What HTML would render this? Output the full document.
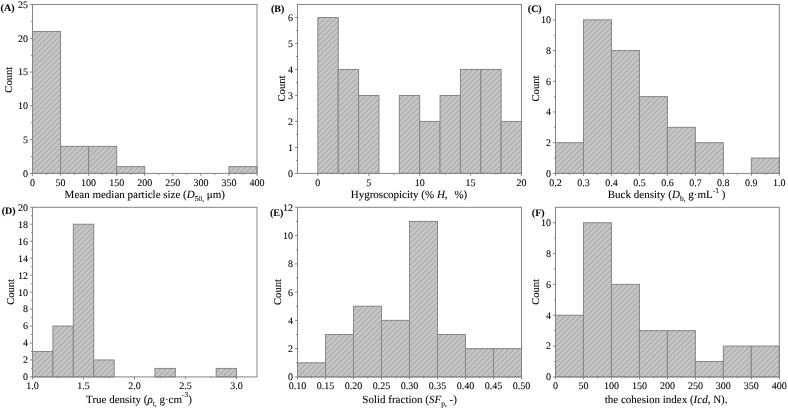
<!DOCTYPE html>
<html><head><meta charset="utf-8"><title>Histograms</title>
<style>
html,body{margin:0;padding:0;background:#fff;}
body{width:788px;height:409px;overflow:hidden;font-family:"Liberation Serif",serif;}
svg{display:block;transform:translateZ(0);}
text{stroke:#000;stroke-width:0.08px;text-rendering:geometricPrecision;}
</style></head><body>
<svg width="788" height="409" viewBox="0 0 788 409" font-family="'Liberation Serif', serif" font-size="10" fill="#000000"><defs><pattern id="hA" patternUnits="userSpaceOnUse" width="3.8042" height="3.8042" patternTransform="rotate(45) translate(2.470 0)"><rect width="3.8042" height="3.8042" fill="#c6c6c6"/><rect x="0" y="0" width="1.00" height="3.8042" fill="#a8a8a8"/></pattern><pattern id="hB" patternUnits="userSpaceOnUse" width="3.8042" height="3.8042" patternTransform="rotate(45) translate(2.611 0)"><rect width="3.8042" height="3.8042" fill="#c6c6c6"/><rect x="0" y="0" width="1.00" height="3.8042" fill="#a8a8a8"/></pattern><pattern id="hC" patternUnits="userSpaceOnUse" width="3.8042" height="3.8042" patternTransform="rotate(45) translate(2.222 0)"><rect width="3.8042" height="3.8042" fill="#c6c6c6"/><rect x="0" y="0" width="1.00" height="3.8042" fill="#a8a8a8"/></pattern><pattern id="hD" patternUnits="userSpaceOnUse" width="3.8042" height="3.8042" patternTransform="rotate(45) translate(1.268 0)"><rect width="3.8042" height="3.8042" fill="#c6c6c6"/><rect x="0" y="0" width="1.00" height="3.8042" fill="#a8a8a8"/></pattern><pattern id="hE" patternUnits="userSpaceOnUse" width="3.8042" height="3.8042" patternTransform="rotate(45) translate(1.338 0)"><rect width="3.8042" height="3.8042" fill="#c6c6c6"/><rect x="0" y="0" width="1.00" height="3.8042" fill="#a8a8a8"/></pattern><pattern id="hF" patternUnits="userSpaceOnUse" width="3.8042" height="3.8042" patternTransform="rotate(45) translate(2.328 0)"><rect width="3.8042" height="3.8042" fill="#c6c6c6"/><rect x="0" y="0" width="1.00" height="3.8042" fill="#a8a8a8"/></pattern></defs>
<rect x="32.50" y="31.52" width="28.06" height="141.88" fill="url(#hA)" stroke="#868686" stroke-width="1"/>
<rect x="60.56" y="146.38" width="28.06" height="27.02" fill="url(#hA)" stroke="#868686" stroke-width="1"/>
<rect x="88.62" y="146.38" width="28.06" height="27.02" fill="url(#hA)" stroke="#868686" stroke-width="1"/>
<rect x="116.69" y="166.64" width="28.06" height="6.76" fill="url(#hA)" stroke="#868686" stroke-width="1"/>
<rect x="228.94" y="166.64" width="28.06" height="6.76" fill="url(#hA)" stroke="#868686" stroke-width="1"/>
<rect x="32.50" y="4.50" width="224.50" height="168.90" fill="none" stroke="#848484" stroke-width="1.0"/>
<path d="M32.50 173.40v2.4M60.56 173.40v2.4M88.62 173.40v2.4M116.69 173.40v2.4M144.75 173.40v2.4M172.81 173.40v2.4M200.88 173.40v2.4M228.94 173.40v2.4M257.00 173.40v2.4M46.53 173.40v1.4M74.59 173.40v1.4M102.66 173.40v1.4M130.72 173.40v1.4M158.78 173.40v1.4M186.84 173.40v1.4M214.91 173.40v1.4M242.97 173.40v1.4M32.50 173.40h-2.4M32.50 139.62h-2.4M32.50 105.84h-2.4M32.50 72.06h-2.4M32.50 38.28h-2.4M32.50 4.50h-2.4M32.50 156.51h-1.4M32.50 122.73h-1.4M32.50 88.95h-1.4M32.50 55.17h-1.4M32.50 21.39h-1.4" stroke="#848484" stroke-width="1" fill="none"/>
<text x="32.50" y="185.60" text-anchor="middle">0</text>
<text x="60.56" y="185.60" text-anchor="middle">50</text>
<text x="88.62" y="185.60" text-anchor="middle">100</text>
<text x="116.69" y="185.60" text-anchor="middle">150</text>
<text x="144.75" y="185.60" text-anchor="middle">200</text>
<text x="172.81" y="185.60" text-anchor="middle">250</text>
<text x="200.88" y="185.60" text-anchor="middle">300</text>
<text x="228.94" y="185.60" text-anchor="middle">350</text>
<text x="257.00" y="185.60" text-anchor="middle">400</text>
<text x="27.90" y="176.80" text-anchor="end">0</text>
<text x="27.90" y="143.02" text-anchor="end">5</text>
<text x="27.90" y="109.24" text-anchor="end">10</text>
<text x="27.90" y="75.46" text-anchor="end">15</text>
<text x="27.90" y="41.68" text-anchor="end">20</text>
<text x="27.90" y="7.90" text-anchor="end">25</text>
<text transform="translate(11.60 79.70) rotate(-90)" text-anchor="middle" font-size="10.6">Count</text>
<text x="0.60" y="10.90" font-weight="bold" font-size="10.0">(A)</text>
<rect x="317.86" y="17.49" width="20.36" height="155.91" fill="url(#hB)" stroke="#868686" stroke-width="1"/>
<rect x="338.23" y="69.46" width="20.36" height="103.94" fill="url(#hB)" stroke="#868686" stroke-width="1"/>
<rect x="358.59" y="95.45" width="20.36" height="77.95" fill="url(#hB)" stroke="#868686" stroke-width="1"/>
<rect x="399.32" y="95.45" width="20.36" height="77.95" fill="url(#hB)" stroke="#868686" stroke-width="1"/>
<rect x="419.68" y="121.43" width="20.36" height="51.97" fill="url(#hB)" stroke="#868686" stroke-width="1"/>
<rect x="440.05" y="95.45" width="20.36" height="77.95" fill="url(#hB)" stroke="#868686" stroke-width="1"/>
<rect x="460.41" y="69.46" width="20.36" height="103.94" fill="url(#hB)" stroke="#868686" stroke-width="1"/>
<rect x="480.77" y="69.46" width="20.36" height="103.94" fill="url(#hB)" stroke="#868686" stroke-width="1"/>
<rect x="501.14" y="121.43" width="20.36" height="51.97" fill="url(#hB)" stroke="#868686" stroke-width="1"/>
<rect x="297.50" y="4.50" width="224.00" height="168.90" fill="none" stroke="#848484" stroke-width="1.0"/>
<path d="M317.86 173.40v2.4M368.77 173.40v2.4M419.68 173.40v2.4M470.59 173.40v2.4M521.50 173.40v2.4M343.32 173.40v1.4M394.23 173.40v1.4M445.14 173.40v1.4M496.05 173.40v1.4M297.50 173.40h-2.4M297.50 147.42h-2.4M297.50 121.43h-2.4M297.50 95.45h-2.4M297.50 69.46h-2.4M297.50 43.48h-2.4M297.50 17.49h-2.4M297.50 160.41h-1.4M297.50 134.42h-1.4M297.50 108.44h-1.4M297.50 82.45h-1.4M297.50 56.47h-1.4M297.50 30.48h-1.4" stroke="#848484" stroke-width="1" fill="none"/>
<text x="317.86" y="185.60" text-anchor="middle">0</text>
<text x="368.77" y="185.60" text-anchor="middle">5</text>
<text x="419.68" y="185.60" text-anchor="middle">10</text>
<text x="470.59" y="185.60" text-anchor="middle">15</text>
<text x="521.50" y="185.60" text-anchor="middle">20</text>
<text x="292.90" y="176.80" text-anchor="end">0</text>
<text x="292.90" y="150.82" text-anchor="end">1</text>
<text x="292.90" y="124.83" text-anchor="end">2</text>
<text x="292.90" y="98.85" text-anchor="end">3</text>
<text x="292.90" y="72.86" text-anchor="end">4</text>
<text x="292.90" y="46.88" text-anchor="end">5</text>
<text x="292.90" y="20.89" text-anchor="end">6</text>
<text transform="translate(285.40 88.50) rotate(-90)" text-anchor="middle" font-size="10.6">Count</text>
<text x="271.00" y="11.80" font-weight="bold" font-size="10.0">(B)</text>
<rect x="555.50" y="142.69" width="27.98" height="30.71" fill="url(#hC)" stroke="#868686" stroke-width="1"/>
<rect x="583.48" y="19.85" width="27.98" height="153.55" fill="url(#hC)" stroke="#868686" stroke-width="1"/>
<rect x="611.45" y="50.56" width="27.97" height="122.84" fill="url(#hC)" stroke="#868686" stroke-width="1"/>
<rect x="639.42" y="96.63" width="27.98" height="76.77" fill="url(#hC)" stroke="#868686" stroke-width="1"/>
<rect x="667.40" y="127.34" width="27.98" height="46.06" fill="url(#hC)" stroke="#868686" stroke-width="1"/>
<rect x="695.38" y="142.69" width="27.98" height="30.71" fill="url(#hC)" stroke="#868686" stroke-width="1"/>
<rect x="751.33" y="158.05" width="27.97" height="15.35" fill="url(#hC)" stroke="#868686" stroke-width="1"/>
<rect x="555.50" y="4.50" width="223.80" height="168.90" fill="none" stroke="#848484" stroke-width="1.0"/>
<path d="M555.50 173.40v2.4M583.48 173.40v2.4M611.45 173.40v2.4M639.42 173.40v2.4M667.40 173.40v2.4M695.38 173.40v2.4M723.35 173.40v2.4M751.32 173.40v2.4M779.30 173.40v2.4M569.49 173.40v1.4M597.46 173.40v1.4M625.44 173.40v1.4M653.41 173.40v1.4M681.39 173.40v1.4M709.36 173.40v1.4M737.34 173.40v1.4M765.31 173.40v1.4M555.50 173.40h-2.4M555.50 142.69h-2.4M555.50 111.98h-2.4M555.50 81.27h-2.4M555.50 50.56h-2.4M555.50 19.85h-2.4M555.50 158.05h-1.4M555.50 127.34h-1.4M555.50 96.63h-1.4M555.50 65.92h-1.4M555.50 35.21h-1.4" stroke="#848484" stroke-width="1" fill="none"/>
<text x="555.50" y="185.60" text-anchor="middle">0.2</text>
<text x="583.48" y="185.60" text-anchor="middle">0.3</text>
<text x="611.45" y="185.60" text-anchor="middle">0.4</text>
<text x="639.42" y="185.60" text-anchor="middle">0.5</text>
<text x="667.40" y="185.60" text-anchor="middle">0.6</text>
<text x="695.38" y="185.60" text-anchor="middle">0.7</text>
<text x="723.35" y="185.60" text-anchor="middle">0.8</text>
<text x="751.32" y="185.60" text-anchor="middle">0.9</text>
<text x="779.30" y="185.60" text-anchor="middle">1.0</text>
<text x="550.90" y="176.80" text-anchor="end">0</text>
<text x="550.90" y="146.09" text-anchor="end">2</text>
<text x="550.90" y="115.38" text-anchor="end">4</text>
<text x="550.90" y="84.67" text-anchor="end">6</text>
<text x="550.90" y="53.96" text-anchor="end">8</text>
<text x="550.90" y="23.25" text-anchor="end">10</text>
<text transform="translate(539.10 88.50) rotate(-90)" text-anchor="middle" font-size="10.6">Count</text>
<text x="527.80" y="11.60" font-weight="bold" font-size="10.0">(C)</text>
<rect x="32.50" y="351.46" width="20.41" height="25.44" fill="url(#hD)" stroke="#868686" stroke-width="1"/>
<rect x="52.91" y="326.02" width="20.41" height="50.88" fill="url(#hD)" stroke="#868686" stroke-width="1"/>
<rect x="73.32" y="224.26" width="20.41" height="152.64" fill="url(#hD)" stroke="#868686" stroke-width="1"/>
<rect x="93.73" y="359.94" width="20.41" height="16.96" fill="url(#hD)" stroke="#868686" stroke-width="1"/>
<rect x="154.95" y="368.42" width="20.41" height="8.48" fill="url(#hD)" stroke="#868686" stroke-width="1"/>
<rect x="216.18" y="368.42" width="20.41" height="8.48" fill="url(#hD)" stroke="#868686" stroke-width="1"/>
<rect x="32.50" y="207.30" width="224.50" height="169.60" fill="none" stroke="#848484" stroke-width="1.0"/>
<path d="M32.50 376.90v2.4M83.52 376.90v2.4M134.55 376.90v2.4M185.57 376.90v2.4M236.59 376.90v2.4M58.01 376.90v1.4M109.03 376.90v1.4M160.06 376.90v1.4M211.08 376.90v1.4M32.50 376.90h-2.4M32.50 359.94h-2.4M32.50 342.98h-2.4M32.50 326.02h-2.4M32.50 309.06h-2.4M32.50 292.10h-2.4M32.50 275.14h-2.4M32.50 258.18h-2.4M32.50 241.22h-2.4M32.50 224.26h-2.4M32.50 207.30h-2.4M32.50 368.42h-1.4M32.50 351.46h-1.4M32.50 334.50h-1.4M32.50 317.54h-1.4M32.50 300.58h-1.4M32.50 283.62h-1.4M32.50 266.66h-1.4M32.50 249.70h-1.4M32.50 232.74h-1.4M32.50 215.78h-1.4" stroke="#848484" stroke-width="1" fill="none"/>
<text x="32.50" y="388.80" text-anchor="middle">1.0</text>
<text x="83.52" y="388.80" text-anchor="middle">1.5</text>
<text x="134.55" y="388.80" text-anchor="middle">2.0</text>
<text x="185.57" y="388.80" text-anchor="middle">2.5</text>
<text x="236.59" y="388.80" text-anchor="middle">3.0</text>
<text x="27.90" y="380.30" text-anchor="end">0</text>
<text x="27.90" y="363.34" text-anchor="end">2</text>
<text x="27.90" y="346.38" text-anchor="end">4</text>
<text x="27.90" y="329.42" text-anchor="end">6</text>
<text x="27.90" y="312.46" text-anchor="end">8</text>
<text x="27.90" y="295.50" text-anchor="end">10</text>
<text x="27.90" y="278.54" text-anchor="end">12</text>
<text x="27.90" y="261.58" text-anchor="end">14</text>
<text x="27.90" y="244.62" text-anchor="end">16</text>
<text x="27.90" y="227.66" text-anchor="end">18</text>
<text x="27.90" y="210.70" text-anchor="end">20</text>
<text transform="translate(14.40 291.90) rotate(-90)" text-anchor="middle" font-size="10.6">Count</text>
<text x="1.70" y="213.60" font-weight="bold" font-size="10.0">(D)</text>
<rect x="297.50" y="362.77" width="28.00" height="14.13" fill="url(#hE)" stroke="#868686" stroke-width="1"/>
<rect x="325.50" y="334.50" width="28.00" height="42.40" fill="url(#hE)" stroke="#868686" stroke-width="1"/>
<rect x="353.50" y="306.23" width="28.00" height="70.67" fill="url(#hE)" stroke="#868686" stroke-width="1"/>
<rect x="381.50" y="320.37" width="28.00" height="56.53" fill="url(#hE)" stroke="#868686" stroke-width="1"/>
<rect x="409.50" y="221.43" width="28.00" height="155.47" fill="url(#hE)" stroke="#868686" stroke-width="1"/>
<rect x="437.50" y="334.50" width="28.00" height="42.40" fill="url(#hE)" stroke="#868686" stroke-width="1"/>
<rect x="465.50" y="348.63" width="28.00" height="28.27" fill="url(#hE)" stroke="#868686" stroke-width="1"/>
<rect x="493.50" y="348.63" width="28.00" height="28.27" fill="url(#hE)" stroke="#868686" stroke-width="1"/>
<rect x="297.50" y="207.30" width="224.00" height="169.60" fill="none" stroke="#848484" stroke-width="1.0"/>
<path d="M297.50 376.90v2.4M325.50 376.90v2.4M353.50 376.90v2.4M381.50 376.90v2.4M409.50 376.90v2.4M437.50 376.90v2.4M465.50 376.90v2.4M493.50 376.90v2.4M521.50 376.90v2.4M311.50 376.90v1.4M339.50 376.90v1.4M367.50 376.90v1.4M395.50 376.90v1.4M423.50 376.90v1.4M451.50 376.90v1.4M479.50 376.90v1.4M507.50 376.90v1.4M297.50 376.90h-2.4M297.50 348.63h-2.4M297.50 320.37h-2.4M297.50 292.10h-2.4M297.50 263.83h-2.4M297.50 235.57h-2.4M297.50 207.30h-2.4M297.50 362.77h-1.4M297.50 334.50h-1.4M297.50 306.23h-1.4M297.50 277.97h-1.4M297.50 249.70h-1.4M297.50 221.43h-1.4" stroke="#848484" stroke-width="1" fill="none"/>
<text x="297.50" y="388.80" text-anchor="middle">0.10</text>
<text x="325.50" y="388.80" text-anchor="middle">0.15</text>
<text x="353.50" y="388.80" text-anchor="middle">0.20</text>
<text x="381.50" y="388.80" text-anchor="middle">0.25</text>
<text x="409.50" y="388.80" text-anchor="middle">0.30</text>
<text x="437.50" y="388.80" text-anchor="middle">0.35</text>
<text x="465.50" y="388.80" text-anchor="middle">0.40</text>
<text x="493.50" y="388.80" text-anchor="middle">0.45</text>
<text x="521.50" y="388.80" text-anchor="middle">0.50</text>
<text x="292.90" y="380.30" text-anchor="end">0</text>
<text x="292.90" y="352.03" text-anchor="end">2</text>
<text x="292.90" y="323.77" text-anchor="end">4</text>
<text x="292.90" y="295.50" text-anchor="end">6</text>
<text x="292.90" y="267.23" text-anchor="end">8</text>
<text x="292.90" y="238.97" text-anchor="end">10</text>
<text x="292.90" y="210.70" text-anchor="end">12</text>
<text transform="translate(280.50 292.00) rotate(-90)" text-anchor="middle" font-size="10.6">Count</text>
<text x="269.90" y="215.90" font-weight="bold" font-size="10.0">(E)</text>
<rect x="555.50" y="315.23" width="27.98" height="61.67" fill="url(#hF)" stroke="#868686" stroke-width="1"/>
<rect x="583.48" y="222.72" width="27.98" height="154.18" fill="url(#hF)" stroke="#868686" stroke-width="1"/>
<rect x="611.45" y="284.39" width="27.97" height="92.51" fill="url(#hF)" stroke="#868686" stroke-width="1"/>
<rect x="639.42" y="330.65" width="27.98" height="46.25" fill="url(#hF)" stroke="#868686" stroke-width="1"/>
<rect x="667.40" y="330.65" width="27.98" height="46.25" fill="url(#hF)" stroke="#868686" stroke-width="1"/>
<rect x="695.38" y="361.48" width="27.97" height="15.42" fill="url(#hF)" stroke="#868686" stroke-width="1"/>
<rect x="723.35" y="346.06" width="27.98" height="30.84" fill="url(#hF)" stroke="#868686" stroke-width="1"/>
<rect x="751.32" y="346.06" width="27.98" height="30.84" fill="url(#hF)" stroke="#868686" stroke-width="1"/>
<rect x="555.50" y="207.30" width="223.80" height="169.60" fill="none" stroke="#848484" stroke-width="1.0"/>
<path d="M555.50 376.90v2.4M583.48 376.90v2.4M611.45 376.90v2.4M639.42 376.90v2.4M667.40 376.90v2.4M695.38 376.90v2.4M723.35 376.90v2.4M751.32 376.90v2.4M779.30 376.90v2.4M569.49 376.90v1.4M597.46 376.90v1.4M625.44 376.90v1.4M653.41 376.90v1.4M681.39 376.90v1.4M709.36 376.90v1.4M737.34 376.90v1.4M765.31 376.90v1.4M555.50 376.90h-2.4M555.50 346.06h-2.4M555.50 315.23h-2.4M555.50 284.39h-2.4M555.50 253.55h-2.4M555.50 222.72h-2.4M555.50 361.48h-1.4M555.50 330.65h-1.4M555.50 299.81h-1.4M555.50 268.97h-1.4M555.50 238.14h-1.4" stroke="#848484" stroke-width="1" fill="none"/>
<text x="555.50" y="388.80" text-anchor="middle">0</text>
<text x="583.48" y="388.80" text-anchor="middle">50</text>
<text x="611.45" y="388.80" text-anchor="middle">100</text>
<text x="639.42" y="388.80" text-anchor="middle">150</text>
<text x="667.40" y="388.80" text-anchor="middle">200</text>
<text x="695.38" y="388.80" text-anchor="middle">250</text>
<text x="723.35" y="388.80" text-anchor="middle">300</text>
<text x="751.32" y="388.80" text-anchor="middle">350</text>
<text x="779.30" y="388.80" text-anchor="middle">400</text>
<text x="550.90" y="380.30" text-anchor="end">0</text>
<text x="550.90" y="349.46" text-anchor="end">2</text>
<text x="550.90" y="318.63" text-anchor="end">4</text>
<text x="550.90" y="287.79" text-anchor="end">6</text>
<text x="550.90" y="256.95" text-anchor="end">8</text>
<text x="550.90" y="226.12" text-anchor="end">10</text>
<text transform="translate(538.90 291.90) rotate(-90)" text-anchor="middle" font-size="10.6">Count</text>
<text x="531.80" y="215.50" font-weight="bold" font-size="10.0">(F)</text>
<text x="144.80" y="198.30" text-anchor="middle" font-size="11.0">Mean median particle size (<tspan font-style="italic">D</tspan><tspan font-size="7.5" dy="2.6">50,</tspan><tspan dy="-2.6"> μm)</tspan></text>
<text x="409.00" y="198.30" text-anchor="middle" font-size="11.0">Hygroscopicity (% <tspan font-style="italic">H</tspan>,<tspan dx="6.8">%)</tspan></text>
<text x="666.60" y="198.30" text-anchor="middle" font-size="11.0">Buck density (<tspan font-style="italic">D</tspan><tspan font-size="7.5" dy="2.6">b,</tspan><tspan dy="-2.6"> g·mL</tspan><tspan font-size="7.5" dy="-5.7">-1</tspan><tspan dy="5.7"> )</tspan></text>
<text x="139.00" y="403.20" text-anchor="middle" font-size="11.0">True density (<tspan font-style="italic">ρ</tspan><tspan font-size="7.5" dy="2.6">t,</tspan><tspan dy="-2.6"> g·cm</tspan><tspan font-size="7.5" dy="-5.8">-3</tspan><tspan dy="5.8">)</tspan></text>
<text x="409.60" y="403.40" text-anchor="middle" font-size="11.0">Solid fraction (<tspan font-style="italic">SF</tspan><tspan font-size="7.5" dy="2.9">p,</tspan><tspan dy="-2.9"> -)</tspan></text>
<text x="666.10" y="403.40" text-anchor="middle" font-size="11.0">the cohesion index (<tspan font-style="italic">Icd</tspan>, N).</text></svg>
</body></html>
